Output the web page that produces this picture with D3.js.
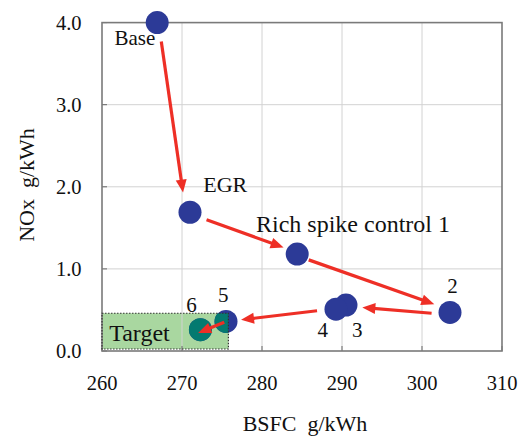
<!DOCTYPE html>
<html><head><meta charset="utf-8">
<script src="https://cdn.jsdelivr.net/npm/d3@7"></script>
<style>body{margin:0;background:#fff;} svg{display:block;}</style>
</head><body>
<svg id="c" width="527" height="437" font-family="'Liberation Serif', 'DejaVu Serif', serif"></svg>
<script>
// Data
const pointNames = ["Base","EGR","RSC1","2","3","4","5","6"];
const bsfc = [266.9, 271.0, 284.4, 303.5, 290.5, 289.25, 275.5, 272.3];
const nox  = [4.00, 1.69, 1.18, 0.47, 0.56, 0.51, 0.36, 0.26];
// arrows: [x1,y1,x2,y2] in data units
const arrows = [
  [267.41, 3.77, 270.13, 1.93],
  [273.07, 1.60, 282.70, 1.26],
  [285.84, 1.11, 301.54, 0.57],
  [301.20, 0.46, 292.54, 0.53],
  [286.88, 0.49, 277.38, 0.38],
  [275.28, 0.35, 272.02, 0.22]
];
const xTicks = [260, 270, 280, 290, 300, 310];
const yTicks = [0, 1, 2, 3, 4];
const target = {x0: 260, x1: 275.8, y0: 0, y1: 0.46};
const labels = [
  {t: "Base", x: 261.55, y: 3.73, size: 21, anchor: "start"},
  {t: "EGR", x: 272.65, y: 1.94, size: 22, anchor: "start"},
  {t: "Rich spike control 1", x: 279.25, y: 1.453, size: 24, anchor: "start"},
  {t: "2", x: 303.8, y: 0.71, size: 21, anchor: "middle"},
  {t: "4", x: 287.6, y: 0.175, size: 21, anchor: "middle"},
  {t: "3", x: 291.9, y: 0.175, size: 21, anchor: "middle"},
  {t: "5", x: 275.15, y: 0.60, size: 21, anchor: "middle"},
  {t: "6", x: 271.2, y: 0.47, size: 21, anchor: "middle"},
  {t: "Target", x: 260.9, y: 0.125, size: 24, anchor: "start"}
];

const svg = d3.select("#c");
const x = d3.scaleLinear().domain([260, 310]).range([102, 502]);
const y = d3.scaleLinear().domain([0, 4]).range([351, 22.6]);

const bx0 = x(target.x0), by0 = y(target.y1);
const bw = x(target.x1) - x(target.x0), bh = y(target.y0) - y(target.y1) - 2;

svg.append("defs").append("clipPath").attr("id", "boxclip")
  .append("rect").attr("x", bx0).attr("y", by0).attr("width", bw).attr("height", bh);

// target box fill
svg.append("rect").attr("x", bx0).attr("y", by0).attr("width", bw).attr("height", bh)
  .attr("fill", "#a9d7a0");

// grid
svg.append("g").selectAll("line").data(xTicks.slice(1, -1)).join("line")
  .attr("x1", d => x(d)).attr("x2", d => x(d)).attr("y1", y(0)).attr("y2", y(4))
  .attr("stroke", "#d2d2d2").attr("stroke-width", 1);
svg.append("g").selectAll("line").data(yTicks.slice(1, -1)).join("line")
  .attr("x1", x(260)).attr("x2", x(310)).attr("y1", d => y(d)).attr("y2", d => y(d))
  .attr("stroke", "#d2d2d2").attr("stroke-width", 1);

// inward ticks
svg.append("g").selectAll("line").data(xTicks).join("line")
  .attr("x1", d => x(d)).attr("x2", d => x(d)).attr("y1", y(0)).attr("y2", y(0) - 5)
  .attr("stroke", "#666").attr("stroke-width", 1);
svg.append("g").selectAll("line").data(yTicks).join("line")
  .attr("x1", x(260)).attr("x2", x(260) + 5).attr("y1", d => y(d)).attr("y2", d => y(d))
  .attr("stroke", "#666").attr("stroke-width", 1);

// frame
svg.append("rect").attr("x", x(260)).attr("y", y(4))
  .attr("width", x(310) - x(260)).attr("height", y(0) - y(4))
  .attr("fill", "none").attr("stroke", "#7a7a7a").attr("stroke-width", 1.6);

// tick labels
svg.append("g").selectAll("text").data(xTicks).join("text")
  .attr("x", d => x(d)).attr("y", 390).attr("text-anchor", "middle")
  .attr("font-size", 20.5).attr("fill", "#111").text(d => d);
svg.append("g").selectAll("text").data(yTicks).join("text")
  .attr("x", 81.5).attr("y", d => y(d)).attr("dy", "0.35em").attr("text-anchor", "end")
  .attr("font-size", 20.5).attr("fill", "#111").text(d => d.toFixed(1));

// axis titles
svg.append("text").attr("x", 305).attr("y", 431).attr("text-anchor", "middle")
  .attr("font-size", 22).attr("fill", "#111").text("BSFC\u00a0\u00a0g/kWh");
svg.append("text").attr("transform", "translate(33.5,185) rotate(-90)")
  .attr("text-anchor", "middle").attr("font-size", 22).attr("fill", "#111").text("NOx\u00a0\u00a0g/kWh");

// points
svg.append("g").selectAll("circle").data(bsfc).join("circle")
  .attr("cx", d => x(d)).attr("cy", (d, i) => y(nox[i])).attr("r", 11.5)
  .attr("fill", "#2c3a97");
// tinted part of points inside the target box
svg.append("g").attr("clip-path", "url(#boxclip)").selectAll("circle").data(bsfc).join("circle")
  .attr("cx", d => x(d)).attr("cy", (d, i) => y(nox[i])).attr("r", 11.5)
  .attr("fill", "#047a70");

// box dotted border
svg.append("rect").attr("x", bx0).attr("y", by0).attr("width", bw).attr("height", bh)
  .attr("fill", "none").attr("stroke", "#333").attr("stroke-width", 1.2).attr("stroke-dasharray", "1.5,1.5");

function drawArrow(g, a) {
  const x1 = x(a[0]), y1 = y(a[1]), x2 = x(a[2]), y2 = y(a[3]);
  const dx = x2 - x1, dy = y2 - y1, L = Math.hypot(dx, dy);
  const ux = dx / L, uy = dy / L, hl = 13, hw = 5.5;
  const bx = x2 - ux * hl, by = y2 - uy * hl;
  g.append("line").attr("x1", x1).attr("y1", y1).attr("x2", bx + ux * 2).attr("y2", by + uy * 2)
    .attr("stroke", "#ee2f26").attr("stroke-width", 3.2);
  g.append("polygon").attr("points", [
    [x2, y2], [bx - uy * hw, by + ux * hw], [bx + uy * hw, by - ux * hw]
  ].map(p => p.join(",")).join(" ")).attr("fill", "#ee2f26");
}
const ag = svg.append("g");
arrows.forEach(a => drawArrow(ag, a));

// labels
svg.append("g").selectAll("text").data(labels).join("text")
  .attr("x", d => x(d.x)).attr("y", d => y(d.y)).attr("text-anchor", d => d.anchor)
  .attr("font-size", d => d.size).attr("fill", "#111").text(d => d.t);
</script>
</body></html>
